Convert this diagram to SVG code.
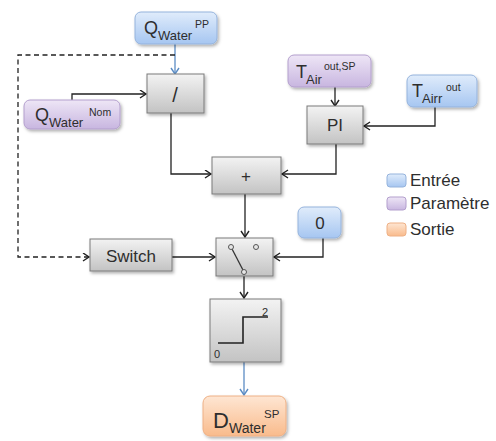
<svg xmlns="http://www.w3.org/2000/svg" width="496" height="441" viewBox="0 0 496 441">
<defs>
<linearGradient id="gGray" x1="0" y1="0" x2="0" y2="1"><stop offset="0" stop-color="#f3f3f3"/><stop offset="1" stop-color="#c3c3c3"/></linearGradient>
<linearGradient id="gBlue" x1="0" y1="0" x2="0" y2="1"><stop offset="0" stop-color="#e0ecfb"/><stop offset="1" stop-color="#a6c6f1"/></linearGradient>
<linearGradient id="gPurple" x1="0" y1="0" x2="0" y2="1"><stop offset="0" stop-color="#eee6f6"/><stop offset="1" stop-color="#c8b6e0"/></linearGradient>
<linearGradient id="gOrange" x1="0" y1="0" x2="0" y2="1"><stop offset="0" stop-color="#fee6d3"/><stop offset="1" stop-color="#f9bb8c"/></linearGradient>
<filter id="sh" x="-20%" y="-20%" width="150%" height="160%"><feDropShadow dx="1.5" dy="2" stdDeviation="1.5" flood-color="#000" flood-opacity="0.3"/></filter>
<marker id="ah" markerWidth="10" markerHeight="10" refX="7" refY="4.5" orient="auto" markerUnits="userSpaceOnUse"><path d="M1,0.5 L7,4.5 L1,8.5" fill="none" stroke="#222" stroke-width="1.4"/></marker>
<marker id="ahb" markerWidth="10" markerHeight="10" refX="7" refY="4.5" orient="auto" markerUnits="userSpaceOnUse"><path d="M1,0.5 L7,4.5 L1,8.5" fill="none" stroke="#5b8cc4" stroke-width="1.4"/></marker>
</defs>
<style>
text{font-family:"Liberation Sans",Arial,sans-serif;fill:#2e2e2e}
.gray{fill:url(#gGray);stroke:#7a7a7a;stroke-width:1;filter:url(#sh)}
.blue{fill:url(#gBlue);stroke:#95b3dc;stroke-width:1;filter:url(#sh)}
.purple{fill:url(#gPurple);stroke:#b39fcd;stroke-width:1;filter:url(#sh)}
.orange{fill:url(#gOrange);stroke:#eeb085;stroke-width:1;filter:url(#sh)}
.lg{stroke-width:1}
.big{font-size:18px}
.sub{font-size:13px}
.sup{font-size:10.5px}
.lbl{font-size:17px}
.leg{font-size:17px}
.c{fill:none;stroke:#222;stroke-width:1.3}
.cb{fill:none;stroke:#5b8cc4;stroke-width:1.3}
</style>

<g id="connectors">
<path class="cb" d="M175,43 V74" marker-end="url(#ahb)"/>
<path class="c" d="M175,55 H18 V257 H89" stroke-dasharray="5,3.5" marker-end="url(#ah)"/>
<path class="c" d="M72,100 V94 H146" marker-end="url(#ah)"/>
<path class="c" d="M171,113 V174 H211" marker-end="url(#ah)"/>
<path class="c" d="M335,87 V106" marker-end="url(#ah)"/>
<path class="c" d="M435,107 V126 H364" marker-end="url(#ah)"/>
<path class="c" d="M336,144 V174 H282" marker-end="url(#ah)"/>
<path class="c" d="M245,194 V237" marker-end="url(#ah)"/>
<path class="c" d="M172,257 H215" marker-end="url(#ah)"/>
<path class="c" d="M323,238 V257 H274" marker-end="url(#ah)"/>
<path class="c" d="M244,274 V298" marker-end="url(#ah)"/>
<path class="cb" d="M244,362 V395" marker-end="url(#ahb)"/>
</g>

<g id="q-water-pp">
<rect class="blue" x="135" y="12" width="82" height="32" rx="6"/>
<text x="144" y="34" class="big">Q</text><text x="158" y="40" class="sub">Water</text><text x="195" y="28" class="sup">PP</text>
</g>

<g id="q-water-nom">
<rect class="purple" x="24" y="100" width="96" height="29" rx="6"/>
<text x="35" y="121" class="big">Q</text><text x="49" y="127" class="sub">Water</text><text x="89" y="116" class="sup">Nom</text>
</g>

<g id="div">
<rect class="gray" x="147" y="74" width="57" height="39"/>
<text x="175" y="102" style="font-size:20px" text-anchor="middle">/</text>
</g>

<g id="t-air-sp">
<rect class="purple" x="288" y="55" width="83" height="32" rx="6"/>
<text x="296" y="78" class="big">T</text><text x="306" y="84" class="sub">Air</text><text x="324" y="70" class="sup">out,SP</text>
</g>

<g id="t-airr-out">
<rect class="blue" x="407" y="75" width="70" height="32" rx="6"/>
<text x="412" y="97" class="big">T</text><text x="422" y="103" class="sub">Airr</text><text x="446" y="91" class="sup">out</text>
</g>

<g id="pi">
<rect class="gray" x="307" y="106" width="56" height="38"/>
<text x="335" y="131" class="lbl" text-anchor="middle">PI</text>
</g>

<g id="plus">
<rect class="gray" x="212" y="157" width="69" height="37"/>
<text x="246" y="182" class="lbl" text-anchor="middle">+</text>
</g>

<g id="switch">
<rect class="gray" x="90" y="239" width="82" height="32"/>
<text x="131" y="262" class="lbl" text-anchor="middle">Switch</text>
</g>

<g id="zero">
<rect class="blue" x="298" y="207" width="43" height="31" rx="6"/>
<text x="320" y="229" class="lbl" text-anchor="middle">0</text>
</g>

<g id="toggle">
<rect class="gray" x="216" y="238" width="57" height="38"/>
<line x1="231" y1="247" x2="244" y2="272" stroke="#333" stroke-width="1.3"/>
<circle cx="231" cy="247" r="2.5" fill="#e6e6e6" stroke="#555" stroke-width="1"/>
<circle cx="256" cy="247" r="2.5" fill="#e6e6e6" stroke="#555" stroke-width="1"/>
<circle cx="244" cy="272" r="2.5" fill="#e6e6e6" stroke="#555" stroke-width="1"/>
</g>

<g id="step">
<rect class="gray" x="210" y="299" width="71" height="63"/>
<path d="M218,343 H243 V317 H268" fill="none" stroke="#222" stroke-width="1.6"/>
<text x="262" y="316" font-size="11">2</text>
<text x="214" y="358" font-size="11">0</text>
</g>

<g id="d-water-sp">
<rect class="orange" x="203" y="396" width="83" height="40" rx="7"/>
<text x="213" y="428" style="font-size:22px">D</text><text x="229" y="433" class="sub" style="font-size:14px">Water</text><text x="264" y="418" class="sup" style="font-size:11.5px">SP</text>
</g>

<g id="legend">
<rect class="blue lg" x="387" y="174" width="19" height="13" rx="3" style="filter:none"/>
<text x="410" y="186" class="leg">Entrée</text>
<rect class="purple lg" x="387" y="197" width="19" height="13" rx="3" style="filter:none"/>
<text x="410" y="209" class="leg">Paramètre</text>
<rect class="orange lg" x="387" y="223" width="19" height="13" rx="3" style="filter:none"/>
<text x="410" y="235" class="leg">Sortie</text>
</g>
</svg>
